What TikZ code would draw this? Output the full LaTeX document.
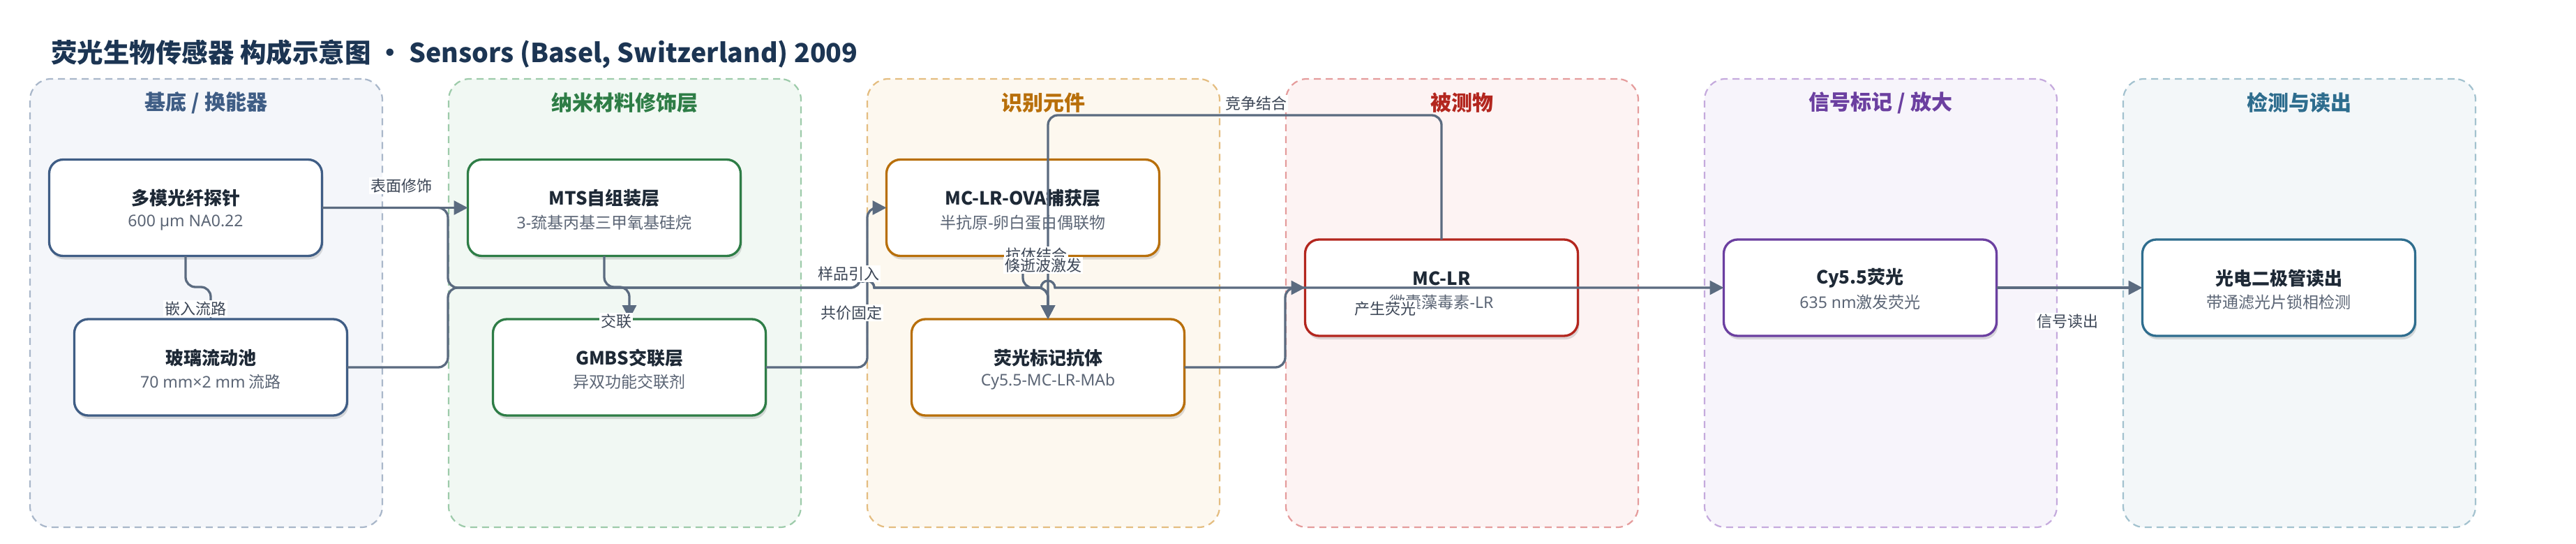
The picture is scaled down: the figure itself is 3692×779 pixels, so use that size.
\documentclass[tikz,border=0pt]{standalone}
\usepackage{fontspec}
\setmainfont{Noto Sans CJK SC}
\newfontfamily\nsfont{Noto Sans}
\usetikzlibrary{arrows.meta,shadows}
\newcommand\lat[1]{{\nsfont #1}}
\definecolor{titlec}{HTML}{1C3553}
\definecolor{ca}{HTML}{3F5D85}\definecolor{cafill}{HTML}{F4F6FA}\definecolor{cadash}{HTML}{A9B7CA}
\definecolor{cb}{HTML}{2E7D46}\definecolor{cbfill}{HTML}{F1F8F3}\definecolor{cbdash}{HTML}{9DCBAA}
\definecolor{cc}{HTML}{B86F0A}\definecolor{ccfill}{HTML}{FDF8EF}\definecolor{ccdash}{HTML}{E4BD80}
\definecolor{cd}{HTML}{B3261E}\definecolor{cdfill}{HTML}{FDF3F3}\definecolor{cddash}{HTML}{E59C9C}
\definecolor{ce}{HTML}{6B3FA0}\definecolor{cefill}{HTML}{F7F4FB}\definecolor{cedash}{HTML}{C5AADD}
\definecolor{cf}{HTML}{2E6D8E}\definecolor{cffill}{HTML}{F3F7F9}\definecolor{cfdash}{HTML}{A3C2CF}
\definecolor{edgec}{HTML}{5B6B80}
\definecolor{tdark}{HTML}{1E2936}
\definecolor{tsub}{HTML}{5B6575}
\definecolor{labc}{HTML}{3C4656}
\tikzset{
  cluster/.style 2 args={fill=#1, draw=#2, dash pattern=on 10pt off 7pt, line width=2.2pt,
    rounded corners=30pt, minimum width=505pt, minimum height=642pt, inner sep=0pt, outer sep=0pt},
  gtitle/.style={font=\fontsize{30}{36}\selectfont\bfseries, text=#1},
  box/.style={draw=#1, fill=white, line width=3.3pt, rounded corners=20pt,
    minimum width=391pt, minimum height=138pt, inner sep=0pt, outer sep=0pt,
    drop shadow={shadow xshift=2pt, shadow yshift=-5pt, opacity=0.13, fill=black}},
  ttl/.style={font=\fontsize{26}{30}\selectfont\bfseries, text=tdark, inner sep=0pt},
  sub/.style={font=\fontsize{23}{28}\selectfont, text=tsub, inner sep=0pt},
  conn/.style={draw=edgec, line width=3.3pt, rounded corners=14pt, -{Triangle[length=20pt,width=20pt]}},
  elab/.style={fill=white, text=labc, font=\fontsize{22}{26}\selectfont, inner sep=2pt},
}
\begin{document}
\begin{tikzpicture}[x=1pt,y=-1pt]
\useasboundingbox (0,0) rectangle (3692,779);
\fill[white] (0,0) rectangle (3692,779);
% title
\node[anchor=west, font=\fontsize{37.5}{44}\selectfont\bfseries, text=titlec, inner sep=0pt] (title) at (73,77)
  {荧光生物传感器 构成示意图 · Sensors (Basel, Switzerland) 2009};
% clusters
\node[cluster={cafill}{cadash}] (g1) at (295.5,434) {};
\node[cluster={cbfill}{cbdash}] (g2) at (895.5,434) {};
\node[cluster={ccfill}{ccdash}] (g3) at (1495.5,434) {};
\node[cluster={cdfill}{cddash}] (g4) at (2095.5,434) {};
\node[cluster={cefill}{cedash}] (g5) at (2695.5,434) {};
\node[cluster={cffill}{cfdash}] (g6) at (3295.5,434) {};
\node[gtitle=ca] (g1t) at (295.5,147) {基底 / 换能器};
\node[gtitle=cb] (g2t) at (895.5,147) {纳米材料修饰层};
\node[gtitle=cc] (g3t) at (1495.5,147) {识别元件};
\node[gtitle=cd] (g4t) at (2095.5,147) {被测物};
\node[gtitle=ce] (g5t) at (2695.5,147) {信号标记 / 放大};
\node[gtitle=cf] (g6t) at (3295.5,147) {检测与读出};
% boxes
\node[box=ca] (probe) at (266,297.5) {};
\node[box=ca] (flow) at (302,526) {};
\node[box=cb] (mts) at (866,297.5) {};
\node[box=cb] (gmbs) at (902,526) {};
\node[box=cc] (ova) at (1466,297.5) {};
\node[box=cc] (anti) at (1502,526) {};
\node[box=cd] (mclr) at (2066,412) {};
\node[box=ce] (cy) at (2666,412) {};
\node[box=cf] (pd) at (3266,412) {};
% box texts
\node[ttl] (probe-t) at ([yshift=13.5pt]probe.center) {多模光纤探针};
\node[sub] (probe-s) at ([yshift=-21pt]probe.center) {\lat{600 µm NA0.22}};
\node[ttl] (flow-t) at ([yshift=13.5pt]flow.center) {玻璃流动池};
\node[sub] (flow-s) at ([yshift=-21pt]flow.center) {\lat{70 mm×2 mm} 流路};
\node[ttl] (mts-t) at ([yshift=13.5pt]mts.center) {MTS自组装层};
\node[sub] (mts-s) at ([yshift=-21pt]mts.center) {\lat{3-}巯基丙基三甲氧基硅烷};
\node[ttl] (gmbs-t) at ([yshift=13.5pt]gmbs.center) {GMBS交联层};
\node[sub] (gmbs-s) at ([yshift=-21pt]gmbs.center) {异双功能交联剂};
\node[ttl] (ova-t) at ([yshift=13.5pt]ova.center) {MC-LR-OVA捕获层};
\node[sub] (ova-s) at ([yshift=-21pt]ova.center) {半抗原\lat{-}卵白蛋白偶联物};
\node[ttl] (anti-t) at ([yshift=13.5pt]anti.center) {荧光标记抗体};
\node[sub] (anti-s) at ([yshift=-21pt]anti.center) {\lat{Cy5.5-MC-LR-MAb}};
\node[ttl] (mclr-t) at ([yshift=13.5pt]mclr.center) {MC-LR};
\node[sub] (mclr-s) at ([yshift=-21pt]mclr.center) {微囊藻毒素\lat{-LR}};
\node[ttl] (cy-t) at ([yshift=13.5pt]cy.center) {Cy5.5荧光};
\node[sub] (cy-s) at ([yshift=-21pt]cy.center) {\lat{635 nm}激发荧光};
\node[ttl] (pd-t) at ([yshift=13.5pt]pd.center) {光电二极管读出};
\node[sub] (pd-s) at ([yshift=-21pt]pd.center) {带通滤光片锁相检测};
% connectors
\draw[conn] (probe.south) -- (266,411) -- (302,411) -- (flow.north);
\draw[conn] (probe.east) -- (mts.west);
\draw[conn] (probe.east) -- (642,297.5) -- (642,412) -- (1233,412) [sharp corners] arc[start angle=180,end angle=360,radius=10] [rounded corners=14pt] -- (1502,412) -- (anti.north);
\draw[conn] (flow.east) -- (642,526) -- (642,412) -- (1233,412) [sharp corners] arc[start angle=180,end angle=360,radius=10] -- (1492,412) arc[start angle=180,end angle=360,radius=10] -- (mclr.west);
\draw[conn] (mts.south) -- (866,411) -- (902,411) -- (gmbs.north);
\draw[conn] (gmbs.east) -- (1243,526) -- (1243,297.5) -- (ova.west);
\draw[conn] (ova.south) -- (1466,412) -- (1502,412) -- (anti.north);
\draw[conn] (mclr.north) -- (2066,165) -- (1502,165) -- (anti.north);
\draw[conn] (anti.east) -- (1842,526) -- (1842,412) -- (cy.west);
\draw[conn] (cy.east) -- (pd.west);
% edge labels
\node[elab] (l1) at (280,442) {嵌入流路};
\node[elab] (l2) at (575,266) {表面修饰};
\node[elab] (l3) at (883,460) {交联};
\node[elab] (l4) at (1216,392) {样品引入};
\node[elab] (l5) at (1220,448) {共价固定};
\node[elab] (l6) at (1485,365) {抗体结合};
\node[elab] (l7) at (1495,380) {倏逝波激发};
\node[elab] (l8) at (1800,148) {竞争结合};
\node[elab] (l9) at (1985,442) {产生荧光};
\node[elab] (l10) at (2963,460) {信号读出};
\end{tikzpicture}
\end{document}
